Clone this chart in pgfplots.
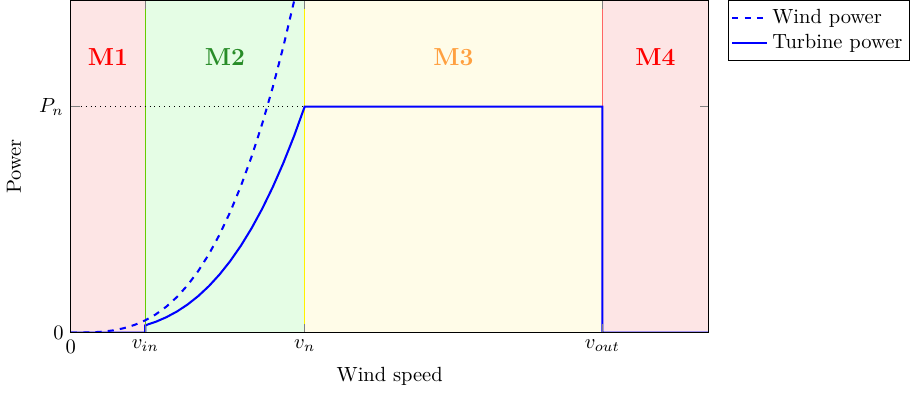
\documentclass[border=0pt]{standalone}
\usepackage{pgfplots}
\pgfplotsset{compat=1.18}
\definecolor{mgreen}{RGB}{40,140,40}
\definecolor{morange}{RGB}{255,160,64}
\definecolor{bgred}{RGB}{253,229,229}
\definecolor{bggreen}{RGB}{229,253,229}
\definecolor{bgyellow}{RGB}{255,252,232}
\definecolor{limeline}{RGB}{102,204,0}
\definecolor{redline}{RGB}{255,100,100}
\begin{document}
\begin{tikzpicture}
\begin{axis}[
  scale only axis,
  width=311pt, height=162pt,
  xmin=0, xmax=30, ymin=0, ymax=1.47,
  xtick={0,3.5,11,25},
  xticklabels={$0$,$v_{in}$,$v_n$,$v_{out}$},
  ytick={0,1},
  yticklabels={$0$,$P_n$},
  tick style={gray, thin},
  xlabel={Wind speed},
  ylabel={Power},
  ylabel style={yshift=2pt},
  legend pos=outer north east,
  legend cell align=left,
  legend style={draw=black, font=\normalsize, inner xsep=1.5pt},
  axis on top,
  clip=true,
]
% regions
\addplot[fill=bgred, draw=none, forget plot] coordinates {(0,0)(0,1.47)(3.5,1.47)(3.5,0)} --cycle;
\addplot[fill=bggreen, draw=none, forget plot] coordinates {(3.5,0)(3.5,1.47)(11,1.47)(11,0)} --cycle;
\addplot[fill=bgyellow, draw=none, forget plot] coordinates {(11,0)(11,1.47)(25,1.47)(25,0)} --cycle;
\addplot[fill=bgred, draw=none, forget plot] coordinates {(25,0)(25,1.47)(30,1.47)(30,0)} --cycle;
\addplot[limeline, thin, forget plot] coordinates {(3.5,0)(3.5,1.47)};
\addplot[yellow, thin, forget plot] coordinates {(11,0)(11,1.47)};
\addplot[redline, thin, forget plot] coordinates {(25,0)(25,1.47)};
\addplot[black, dotted, thin, forget plot] coordinates {(0,1)(25,1)};
% curves
\addplot[blue, line width=1pt, dashed] coordinates {
(0,0)(0.5,0.000158)(1,0.00127)(1.5,0.00427)(2,0.0101)(2.5,0.0198)(3,0.0342)(3.5,0.0543)
(4,0.0811)(4.5,0.1155)(5,0.1583)(5.5,0.2107)(6,0.2736)(6.5,0.3478)(7,0.4345)(7.5,0.5344)
(8,0.6486)(8.5,0.7779)(9,0.9234)(9.5,1.0861)(10,1.2667)(10.5,1.4663)(11,1.686)};
\addlegendentry{Wind power}
\addplot[blue, line width=1pt] coordinates {
(0,0)(3.5,0)(3.5,0.0322)(4,0.0481)(4.5,0.0685)(5,0.0939)(5.5,0.125)(6,0.1623)(6.5,0.2063)
(7,0.2577)(7.5,0.3170)(8,0.3847)(8.5,0.4614)(9,0.5477)(9.5,0.6442)(10,0.7513)(10.5,0.8697)
(11,1)(25,1)(25,0)(30,0)};
\addlegendentry{Turbine power}
\node[red, font=\large\bfseries] at (axis cs:1.75,1.22) {M1};
\node[mgreen, font=\large\bfseries] at (axis cs:7.25,1.22) {M2};
\node[morange, font=\large\bfseries] at (axis cs:18,1.22) {M3};
\node[red, font=\large\bfseries] at (axis cs:27.5,1.22) {M4};
\end{axis}
\end{tikzpicture}
\end{document}
